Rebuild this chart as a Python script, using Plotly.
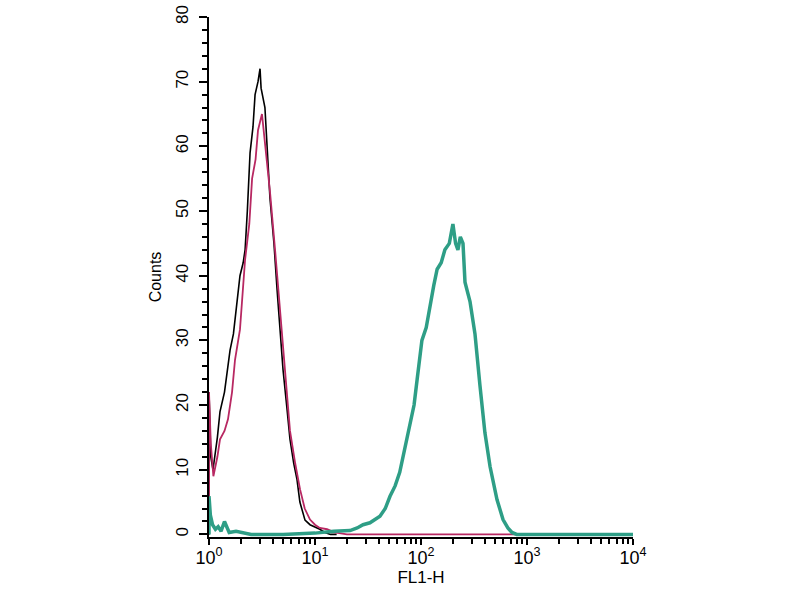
import plotly.graph_objects as go

# FL1-H histogram overlay (counts vs fluorescence, log x)
black_x = [1, 1, 1.04, 1.09, 1.2, 1.27, 1.4, 1.58, 1.7, 1.84, 1.96, 2.1, 2.19, 2.3, 2.44, 2.6,
           2.72, 2.9, 3.03, 3.1, 3.37, 3.76, 4.1, 4.38, 4.99, 5.4, 5.81, 6.3, 6.76, 7.2, 7.54,
           8.05, 8.97, 10, 11.1, 12.4, 14, 16]
black_y = [0, 22, 12, 10, 15, 19, 22, 28.5, 31, 36, 40, 42, 44, 50, 59, 63,
           68, 70, 72, 69, 66, 52, 45, 38, 25.5, 20, 14.7, 11, 8.5, 5, 3.9,
           2.2, 1.5, 1.2, 0.8, 0.3, 0, 0]

magenta_x = [1, 1, 1.04, 1.1, 1.2, 1.27, 1.4, 1.51, 1.65, 1.76, 1.96, 2.19, 2.4, 2.55, 2.75,
             2.9, 3.16, 3.4, 3.76, 4.2, 4.68, 5.2, 5.81, 6.5, 7.22, 8.0, 8.97, 10, 11.1, 13,
             15.4, 20, 50, 200, 800]
magenta_y = [0, 22, 14, 9, 12, 14.7, 16, 17.8, 22, 27, 31.7, 42.5, 48, 55, 58,
             62.5, 65, 60, 53, 44, 35, 25, 16, 11, 7, 4, 2.3, 1.5, 1, 0.8,
             0.3, 0, 0, 0, 0]

teal_x = [1, 1, 1.03, 1.08, 1.15, 1.22, 1.3, 1.4, 1.55, 1.8, 2.5, 5, 10, 15, 21.4, 25, 28.4,
          33, 41, 46, 51, 57, 63, 70, 79, 86, 92, 102, 112, 122, 132, 142, 155, 168, 185,
          200, 212, 223, 235, 249, 260, 290, 323, 360, 401, 448, 521, 594, 660, 722, 800,
          2000, 10000]
teal_y = [0, 5.9, 3, 1.5, 0.8, 1.2, 0.5, 2, 0.3, 0.5, 0, 0, 0.2, 0.5, 0.6, 1, 1.5,
          1.8, 2.8, 4, 5.9, 7.5, 9.6, 13, 16.7, 20, 24, 30, 32, 35.8, 38.5, 41, 42, 44, 45,
          48, 45, 44, 46, 45, 39, 36, 31, 23, 15.7, 10.5, 5.4, 2.3, 1, 0.3, 0,
          0, 0]

x_ticks = [1, 10, 100, 1000, 10000]
x_labels = ["10<sup>0</sup>", "10<sup>1</sup>", "10<sup>2</sup>", "10<sup>3</sup>", "10<sup>4</sup>"]
x_minor = [m * 10 ** d for d in range(4) for m in range(2, 10)]

fig = go.Figure()

fig.add_trace(go.Scatter(x=black_x, y=black_y, mode='lines',
                         line=dict(color='black', width=1.6), showlegend=False))
fig.add_trace(go.Scatter(x=magenta_x, y=magenta_y, mode='lines',
                         line=dict(color='#b82862', width=1.8), showlegend=False))
fig.add_trace(go.Scatter(x=teal_x, y=teal_y, mode='lines',
                         line=dict(color='#2e9e86', width=3.5), showlegend=False))

font = dict(family='Liberation Sans', size=17, color='black')

fig.update_layout(
    width=800, height=600,
    margin=dict(l=209, r=167, t=17, b=63),
    plot_bgcolor='white',
    paper_bgcolor='white',
    font=font,
)

fig.update_xaxes(
    type='log', range=[0, 4], automargin=False,
    tickvals=x_ticks, ticktext=x_labels, tickfont=dict(size=18),
    ticks='outside', ticklen=6, tickwidth=2, tickcolor='black',
    ticklabelstandoff=-3, ticklabeloverflow='allow',
    minor=dict(tickvals=x_minor, ticks='outside', ticklen=5, tickwidth=2, tickcolor='black'),
    showline=True, linecolor='black', linewidth=2,
    showgrid=False, zeroline=False,
    title=dict(text='FL1-H', standoff=0, font=dict(size=17)),
)

fig.update_yaxes(
    range=[-0.4, 80], automargin=False,
    tickvals=list(range(0, 81, 10)),
    tickangle=-90, tickfont=dict(size=17),
    ticks='outside', ticklen=8, tickwidth=2, tickcolor='black',
    ticklabelstandoff=4, ticklabeloverflow='allow',
    minor=dict(dtick=2, ticks='outside', ticklen=5, tickwidth=2, tickcolor='black'),
    showline=True, linecolor='black', linewidth=2,
    showgrid=False, zeroline=False,
    title=dict(text='Counts', standoff=8, font=dict(size=16)),
)

# drop the default 8px page margin so the figure sits at the window's corner
fig.write_html("out.html", config={'displayModeBar': False},
               post_script="document.body.style.margin='0';")
